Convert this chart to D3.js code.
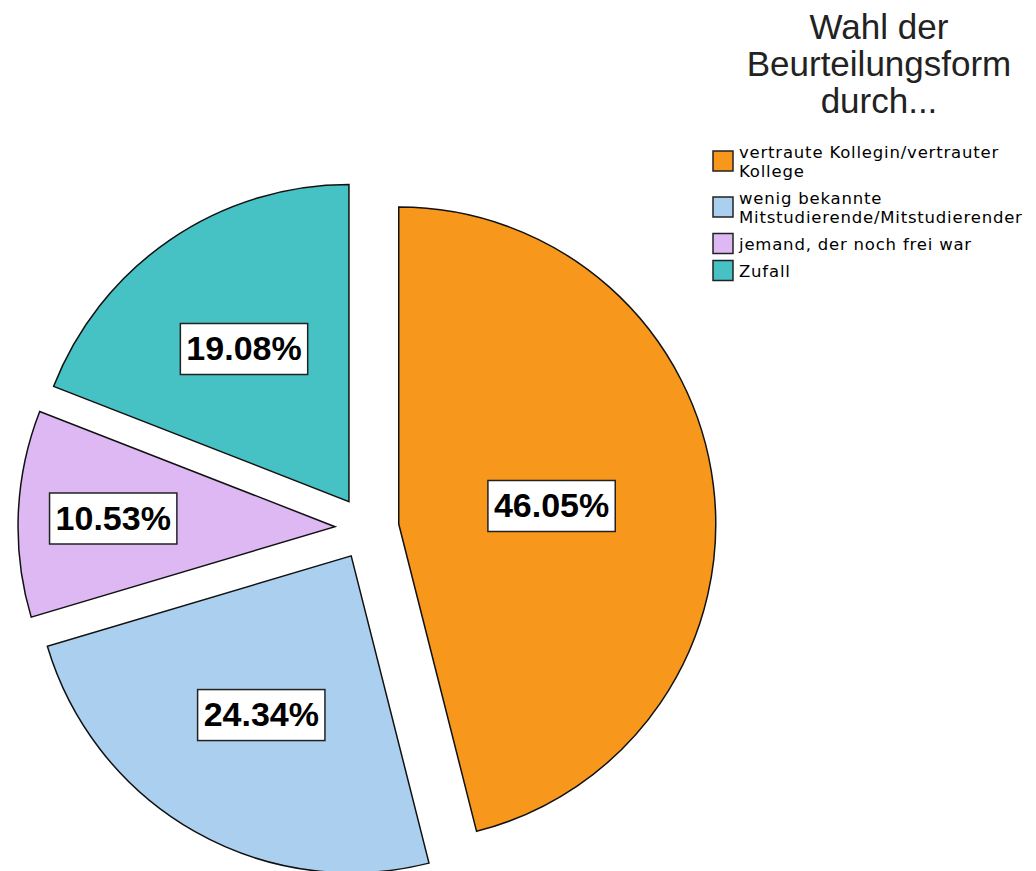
<!DOCTYPE html>
<html>
<head>
<meta charset="utf-8">
<script src="https://cdn.jsdelivr.net/npm/d3@7"></script>
<style>
  body { margin: 0; background: #fff; }
  svg { display: block; }
</style>
</head>
<body>
<svg id="chart" width="1036" height="871"></svg>
<script>
  // counts behind the percentages (n = 152)
  var categories = [
    "vertraute Kollegin/vertrauter Kollege",
    "wenig bekannte Mitstudierende/Mitstudierender",
    "jemand, der noch frei war",
    "Zufall"
  ];
  var legendLines = [
    ["vertraute Kollegin/vertrauter", "Kollege"],
    ["wenig bekannte", "Mitstudierende/Mitstudierender"],
    ["jemand, der noch frei war"],
    ["Zufall"]
  ];
  var counts = [70, 37, 16, 29];
  var colors = ["#f7981d", "#abcfee", "#ddb8f2", "#46c1c4"];
  var titleLines = ["Wahl der", "Beurteilungsform", "durch..."];

  var svg = d3.select("#chart");

  var cx = 367, cy = 528, radius = 317, explode = 32;
  // distance of the percent box from each slice tip
  var labelDist = [154, 182, 222, 186];

  var total = d3.sum(counts);
  var pie = d3.pie().sort(null).startAngle(0).endAngle(2 * Math.PI);
  var arcs = pie(counts);
  var arc = d3.arc().innerRadius(0).outerRadius(radius);

  function mid(d) { return (d.startAngle + d.endAngle) / 2; }

  var slices = svg.append("g")
    .attr("transform", "translate(" + cx + "," + cy + ")")
    .selectAll("g.slice")
    .data(arcs)
    .enter().append("g")
      .attr("class", "slice")
      .attr("transform", function(d) {
        var a = mid(d);
        return "translate(" + (explode * Math.sin(a)) + "," + (-explode * Math.cos(a)) + ")";
      });

  slices.append("path")
    .attr("d", arc)
    .attr("fill", function(d, i) { return colors[i]; })
    .attr("stroke", "#111")
    .attr("stroke-width", 1.5)
    .attr("stroke-linejoin", "miter");

  var fmt = d3.format(".2f");

  slices.each(function(d, i) {
    var g = d3.select(this);
    var a = mid(d);
    var lx = labelDist[i] * Math.sin(a);
    var ly = -labelDist[i] * Math.cos(a);
    var box = g.append("rect");
    var t = g.append("text")
      .attr("x", lx)
      .attr("y", ly)
      .attr("text-anchor", "middle")
      .attr("dominant-baseline", "central")
      .style("font-family", "'Liberation Sans', Arial, sans-serif")
      .style("font-weight", "bold")
      .style("font-size", "34px")
      .attr("fill", "#000")
      .text(fmt(d.value / total * 100) + "%");
    var w = t.node().getComputedTextLength() + 12;
    var h = 51;
    box.attr("x", lx - w / 2)
      .attr("y", ly - h / 2 + 1)
      .attr("width", w)
      .attr("height", h)
      .attr("fill", "#fff")
      .attr("stroke", "#222")
      .attr("stroke-width", 1.5);
  });

  // title
  svg.append("g").selectAll("text")
    .data(titleLines)
    .enter().append("text")
      .attr("x", 879)
      .attr("y", function(d, i) { return 39 + i * 37; })
      .attr("text-anchor", "middle")
      .style("font-family", "'Liberation Sans', Arial, sans-serif")
      .style("font-size", "35px")
      .attr("fill", "#222")
      .text(function(d) { return d; });

  // legend
  var legend = svg.append("g");
  var lineH = 19, gap = 8, yTop = 144;
  legendLines.forEach(function(lines, i) {
    var blockH = lines.length * lineH;
    var sy = yTop + blockH / 2 - 2 - 10;
    legend.append("rect")
      .attr("x", 713)
      .attr("y", sy)
      .attr("width", 20)
      .attr("height", 20)
      .attr("fill", colors[i])
      .attr("stroke", "#222")
      .attr("stroke-width", 1.5);
    lines.forEach(function(l, j) {
      legend.append("text")
        .attr("x", 739)
        .attr("y", yTop + 14 + j * lineH)
        .style("font-family", "'DejaVu Sans', sans-serif")
        .style("font-size", "16.5px")
        .style("letter-spacing", "0.8px")
        .attr("fill", "#000")
        .text(l);
    });
    yTop += blockH + gap;
  });
</script>
</body>
</html>
